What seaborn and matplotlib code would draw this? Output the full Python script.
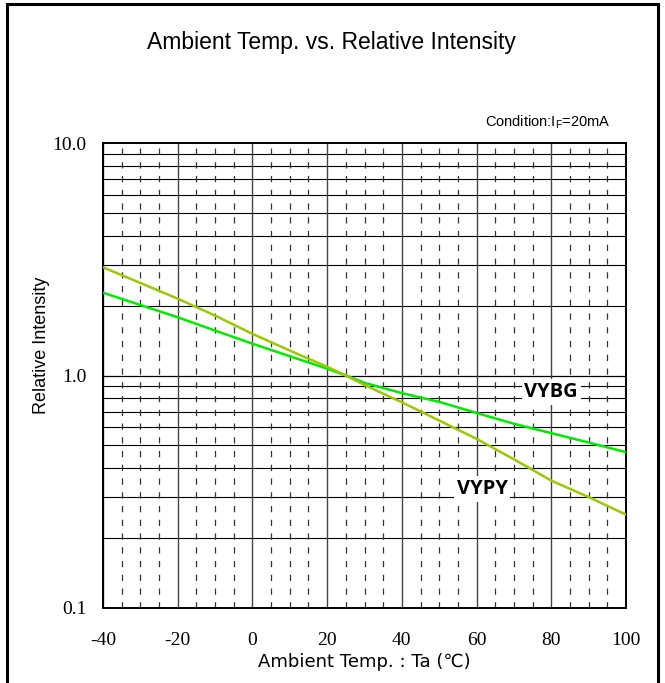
import numpy as np
import pandas as pd
import matplotlib
matplotlib.use("Agg")
import matplotlib.pyplot as plt
import matplotlib.ticker as mticker
from matplotlib.patches import Rectangle
import seaborn as sns

# -----------------------------
# DATA
# -----------------------------
temps = [-40, -30, -20, -10, 0, 10, 20, 25, 30, 40, 50, 60, 70, 80, 90, 100]
vybg = [2.27, 2.01, 1.78, 1.56, 1.37, 1.21, 1.07, 1.0, 0.93, 0.84, 0.77, 0.69, 0.62, 0.565, 0.515, 0.468]
vypy = [2.92, 2.50, 2.14, 1.81, 1.51, 1.28, 1.09, 1.0, 0.91, 0.767, 0.64, 0.534, 0.436, 0.353, 0.30, 0.252]

x_ticks = [-40, -20, 0, 20, 40, 60, 80, 100]
y_ticks = [0.1, 1.0, 10.0]
y_ticklabels = ["0.1", "1.0", "10.0"]

df = pd.DataFrame({
    "Ta": temps * 2,
    "ri": vybg + vypy,
    "led": ["VYBG"] * len(temps) + ["VYPY"] * len(temps),
})

# -----------------------------
# STYLE
# -----------------------------
sns.set_style("white")
plt.rcParams["font.family"] = ["Liberation Sans Narrow", "Liberation Sans", "DejaVu Sans"]
plt.rcParams["axes.unicode_minus"] = False
plt.rcParams["text.color"] = "black"
plt.rcParams["xtick.color"] = "black"
plt.rcParams["ytick.color"] = "black"

fig = plt.figure(figsize=(6.65, 6.83), dpi=100)
ax = fig.add_axes([103 / 665, 75 / 683, 523 / 665, 465 / 683])

# -----------------------------
# GRID
# -----------------------------
for d in [0.1, 1.0]:
    for m in range(2, 10):
        ax.axhline(d * m, color="black", lw=0.8, zorder=1)
ax.axhline(1.0, color="black", lw=0.9, zorder=1)
for x in range(-40, 101, 5):
    if x % 20 == 0:
        ax.axvline(x, color="#444444", lw=1.0, zorder=1)
    else:
        ax.axvline(x, color="#333333", lw=0.9, ls=(0, (5, 6)), zorder=1)

# -----------------------------
# CURVES
# -----------------------------
sns.lineplot(data=df, x="Ta", y="ri", hue="led",
             palette={"VYBG": "#00e800", "VYPY": "#9cc800"},
             lw=1.8, legend=False, ax=ax, zorder=3)

ax.set_yscale("log")
ax.set_xlim(-40, 100)
ax.set_ylim(0.1, 10)
ax.set_xticks(x_ticks)
ax.set_yticks(y_ticks)
ax.yaxis.set_major_formatter(mticker.FixedFormatter(y_ticklabels))
ax.yaxis.set_minor_locator(mticker.NullLocator())
ax.tick_params(axis="both", which="major", direction="out", length=7,
               width=1, color="black", labelcolor="black", labelsize=14)
ax.tick_params(axis="x", pad=10)
ax.tick_params(axis="y", pad=5)
for lab in ax.get_xticklabels() + ax.get_yticklabels():
    lab.set_family(["Liberation Serif", "DejaVu Serif"])
for s in ax.spines.values():
    s.set_color("black")
    s.set_linewidth(1.4)
ax.set_xlabel("")
ax.set_ylabel("")

# -----------------------------
# TEXT
# -----------------------------
box = dict(facecolor="white", edgecolor="none", pad=2)
ax.text(80, 0.85, "VYBG", ha="center", va="center", fontsize=14.5,
        fontweight="bold", family=["Open Sans", "DejaVu Sans"], bbox=box, zorder=4)
ax.text(61.5, 0.325, "VYPY", ha="center", va="center", fontsize=14.5,
        fontweight="bold", family=["Open Sans", "DejaVu Sans"], bbox=box, zorder=4)

fig.text(331 / 665, 1 - 42 / 683, "Ambient Temp. vs. Relative Intensity",
         ha="center", va="center", fontsize=16.5)
fig.text(548 / 665, 1 - 122 / 683, r"Condition:I$_\mathregular{F}$=20mA",
         ha="center", va="center", fontsize=10.5)
fig.text(42 / 665, 1 - 345 / 683, "Relative Intensity", rotation=90,
         ha="center", va="center", fontsize=13)
fig.text(364 / 665, 1 - 662 / 683, "Ambient Temp. : Ta (\u2103)",
         ha="center", va="center", fontsize=13,
         family=["Liberation Sans Narrow", "DejaVu Sans"])

# outer frame
fig.add_artist(Rectangle((7 / 665, -0.02), 651 / 665, 1 - 4 / 683 + 0.02,
                         transform=fig.transFigure, fill=False,
                         edgecolor="black", lw=2.2))

fig.savefig("out.png", dpi=100)
